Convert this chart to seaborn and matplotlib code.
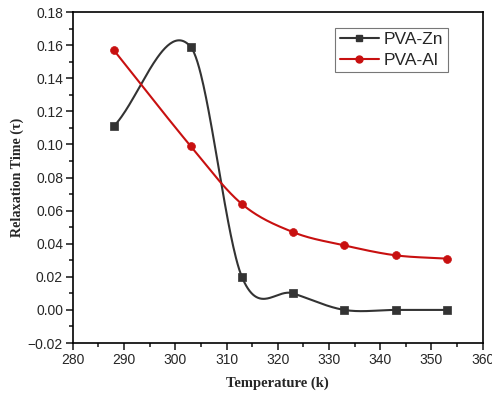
import numpy as np
import pandas as pd
import seaborn as sns
import matplotlib.pyplot as plt
from matplotlib.lines import Line2D
from matplotlib.ticker import MultipleLocator

# data
temperature = [288, 303, 313, 323, 333, 343, 353]
pva_zn = [0.111, 0.159, 0.020, 0.010, 0.000, 0.000, 0.000]
pva_al = [0.157, 0.099, 0.064, 0.047, 0.039, 0.033, 0.031]
series_names = ["PVA-Zn", "PVA-Al"]


def smooth_curve(x, y, per_seg=60):
    """cardinal (Catmull-Rom) spline through the points, for the smooth connecting line"""
    x = np.asarray(x, float)
    y = np.asarray(y, float)
    k = len(x)
    m = np.empty(k)
    m[0] = (y[1] - y[0]) / (x[1] - x[0])
    m[-1] = (y[-1] - y[-2]) / (x[-1] - x[-2])
    m[1:-1] = (y[2:] - y[:-2]) / (x[2:] - x[:-2])
    xs_all, ys_all = [], []
    for i in range(k - 1):
        h = x[i + 1] - x[i]
        s = np.linspace(0, 1, per_seg, endpoint=(i == k - 2))
        h00 = 2 * s ** 3 - 3 * s ** 2 + 1
        h10 = s ** 3 - 2 * s ** 2 + s
        h01 = -2 * s ** 3 + 3 * s ** 2
        h11 = s ** 3 - s ** 2
        xs_all.append(x[i] + s * h)
        ys_all.append(h00 * y[i] + h10 * h * m[i] + h01 * y[i + 1] + h11 * h * m[i + 1])
    return np.concatenate(xs_all), np.concatenate(ys_all)


sns.set_style("white")
plt.rcParams['font.family'] = ['Liberation Sans', 'DejaVu Sans']

fig = plt.figure(figsize=(4.92, 3.94), dpi=100)
ax = fig.add_axes([0.148, 0.1294, 0.833, 0.840])

colors = ["#333333", "#c81010"]
markers = ["s", "o"]
sizes = [26, 32]
for vals, name, c, mk, sz in zip([pva_zn, pva_al], series_names, colors, markers, sizes):
    xs, ys = smooth_curve(temperature, vals)
    sns.lineplot(x=xs, y=ys, ax=ax, color=c, lw=1.5, sort=False, legend=False)
    pts = pd.DataFrame({"T": temperature, "v": vals})
    sns.scatterplot(data=pts, x="T", y="v", ax=ax, color=c, marker=mk,
                    s=sz, edgecolor=c, linewidth=0.5, legend=False, zorder=3)

ax.set_xlim(280, 360)
ax.set_ylim(-0.02, 0.18)
ax.xaxis.set_major_locator(MultipleLocator(10))
ax.xaxis.set_minor_locator(MultipleLocator(5))
ax.yaxis.set_major_locator(MultipleLocator(0.02))
ax.yaxis.set_minor_locator(MultipleLocator(0.01))
ax.yaxis.set_major_formatter(plt.FuncFormatter(lambda v, p: f"{v:.2f}".replace("-", "\u2212")))
ax.tick_params(which="major", direction="out", length=5, width=1.2, labelsize=10,
               bottom=True, left=True, top=False, right=False, pad=2)
ax.tick_params(which="minor", direction="out", length=3, width=1.2,
               bottom=True, left=True, top=False, right=False)
for sp in ax.spines.values():
    sp.set_color("black")
    sp.set_linewidth(1.2)

ax.set_xlabel("Temperature (k)", family=["Liberation Serif"], fontweight="bold", fontsize=10.5, labelpad=7)
ax.set_ylabel("Relaxation Time (\u03c4)", family=["Liberation Serif"], fontweight="bold", fontsize=10.2, labelpad=2.5)

handles = [Line2D([], [], color=c, marker=mk, lw=1.5, markersize=5)
           for c, mk in zip(colors, markers)]
leg = ax.legend(handles, series_names, loc="upper right", bbox_to_anchor=(0.915, 0.952),
                fontsize=12.5, frameon=True, fancybox=False, handlelength=2.25,
                handletextpad=0.3, borderpad=0.25, labelspacing=0.3, borderaxespad=0)
leg.get_frame().set_edgecolor("#555555")
leg.get_frame().set_linewidth(0.8)

fig.savefig("out.png", dpi=100)
